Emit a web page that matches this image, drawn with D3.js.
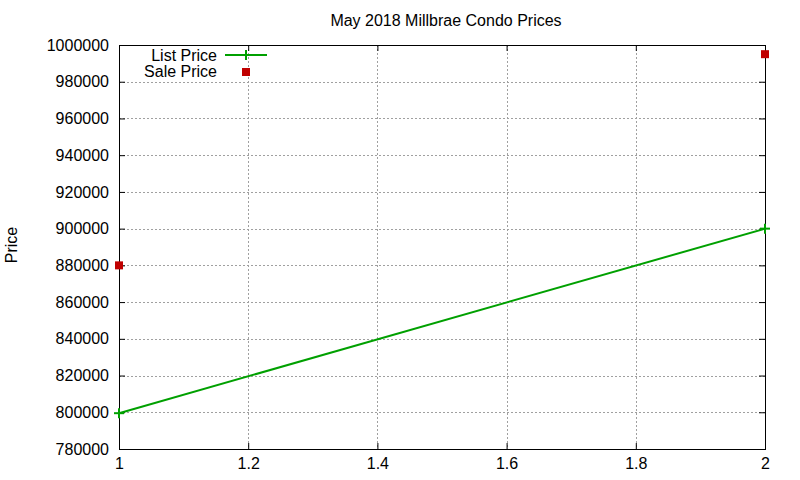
<!DOCTYPE html>
<html>
<head>
<meta charset="utf-8">
<script src="https://cdn.jsdelivr.net/npm/d3@7"></script>
<style>
  body { margin: 0; background: #fff; }
  svg { font-family: "Liberation Sans", Arial, sans-serif; }
</style>
</head>
<body>
<svg id="chart"></svg>
<script>
// chart data
const xValues = [1, 2];
const listPrice = [799500, 900000];
const salePrice = [880000, 995000];
const xTicks = [1, 1.2, 1.4, 1.6, 1.8, 2];
const yTicks = [780000, 800000, 820000, 840000, 860000, 880000, 900000, 920000, 940000, 960000, 980000, 1000000];

const width = 800;
const height = 480;
const margin = { top: 45, right: 35, bottom: 31, left: 119 };

const svg = d3.select("#chart")
  .attr("width", width)
  .attr("height", height)
  .attr("viewBox", [0, 0, width, height]);

// scales
const x = d3.scaleLinear()
  .domain([1, 2])
  .range([margin.left, width - margin.right]);

const y = d3.scaleLinear()
  .domain([780000, 1000000])
  .range([height - margin.bottom, margin.top]);

// grid
const grid = svg.append("g")
  .attr("stroke", "#a0a0a0")
  .attr("stroke-width", 1)
  .attr("stroke-dasharray", "2,2");

grid.selectAll("line.gy")
  .data(yTicks.slice(1, -1))
  .join("line")
  .attr("x1", margin.left)
  .attr("x2", width - margin.right)
  .attr("y1", d => Math.round(y(d)) + 0.5)
  .attr("y2", d => Math.round(y(d)) + 0.5);

grid.selectAll("line.gx")
  .data(xTicks.slice(1, -1))
  .join("line")
  .attr("x1", d => Math.round(x(d)) + 0.5)
  .attr("x2", d => Math.round(x(d)) + 0.5)
  .attr("y1", margin.top)
  .attr("y2", height - margin.bottom);

// axes with inward ticks, mirrored on the other sides
const tickLen = 6;
const yAxis = g => g
  .attr("transform", `translate(${margin.left},0)`)
  .call(d3.axisLeft(y).tickValues(yTicks).tickSize(-tickLen).tickPadding(10).tickFormat(d3.format("d")))
  .call(g => g.select(".domain").remove());

const yAxisRight = g => g
  .attr("transform", `translate(${width - margin.right},0)`)
  .call(d3.axisRight(y).tickValues(yTicks).tickSize(-tickLen).tickFormat(""))
  .call(g => g.select(".domain").remove());

const xAxis = g => g
  .attr("transform", `translate(0,${height - margin.bottom})`)
  .call(d3.axisBottom(x).tickValues(xTicks).tickSize(-tickLen).tickPadding(9).tickFormat(d => d3.format("~g")(d)))
  .call(g => g.select(".domain").remove());

const xAxisTop = g => g
  .attr("transform", `translate(0,${margin.top})`)
  .call(d3.axisTop(x).tickValues(xTicks).tickSize(-tickLen).tickFormat(""))
  .call(g => g.select(".domain").remove());

[yAxis, yAxisRight, xAxis, xAxisTop].forEach(a => {
  svg.append("g").call(a)
    .call(g => g.selectAll("line").attr("stroke", "#000"))
    .call(g => g.selectAll("text")
      .attr("fill", "#000")
      .style("font-size", "16px")
      .style("font-family", "Liberation Sans, Arial, sans-serif"));
});

// border
svg.append("rect")
  .attr("x", margin.left + 0.5)
  .attr("y", margin.top + 0.5)
  .attr("width", width - margin.left - margin.right)
  .attr("height", height - margin.top - margin.bottom)
  .attr("fill", "none")
  .attr("stroke", "#000")
  .attr("stroke-width", 1);

const green = "#00a000";
const red = "#c00000";

// list price line
const listData = xValues.map((d, i) => [d, listPrice[i]]);
svg.append("path")
  .datum(listData)
  .attr("fill", "none")
  .attr("stroke", green)
  .attr("stroke-width", 2)
  .attr("d", d3.line().x(d => x(d[0])).y(d => y(d[1])));

const plus = (g, cx, cy, s) => {
  g.append("line").attr("x1", cx - s).attr("x2", cx + s).attr("y1", cy).attr("y2", cy);
  g.append("line").attr("x1", cx).attr("x2", cx).attr("y1", cy - s).attr("y2", cy + s);
};

const plusG = svg.append("g").attr("stroke", green).attr("stroke-width", 2);
listData.forEach(d => plus(plusG, x(d[0]), y(d[1]), 5));

// sale price points
const saleData = xValues.map((d, i) => [d, salePrice[i]]);
svg.append("g")
  .selectAll("rect")
  .data(saleData)
  .join("rect")
  .attr("x", d => x(d[0]) - 4)
  .attr("y", d => y(d[1]) - 4)
  .attr("width", 8)
  .attr("height", 8)
  .attr("fill", red);

// title
svg.append("text")
  .attr("x", 446)
  .attr("y", 26)
  .attr("text-anchor", "middle")
  .style("font-size", "16px")
  .text("May 2018 Millbrae Condo Prices");

// y label
svg.append("text")
  .attr("transform", "translate(17,245) rotate(-90)")
  .attr("text-anchor", "middle")
  .style("font-size", "16px")
  .text("Price");

// legend
const legend = svg.append("g");
legend.append("text")
  .attr("x", 217)
  .attr("y", 61)
  .attr("text-anchor", "end")
  .style("font-size", "16px")
  .text("List Price");
legend.append("line")
  .attr("x1", 225).attr("x2", 267)
  .attr("y1", 55).attr("y2", 55)
  .attr("stroke", green).attr("stroke-width", 2);
plus(legend.append("g").attr("stroke", green).attr("stroke-width", 2), 246, 55, 5);

legend.append("text")
  .attr("x", 217)
  .attr("y", 77)
  .attr("text-anchor", "end")
  .style("font-size", "16px")
  .text("Sale Price");
legend.append("rect")
  .attr("x", 242).attr("y", 68)
  .attr("width", 8).attr("height", 8)
  .attr("fill", red);
</script>
</body>
</html>
